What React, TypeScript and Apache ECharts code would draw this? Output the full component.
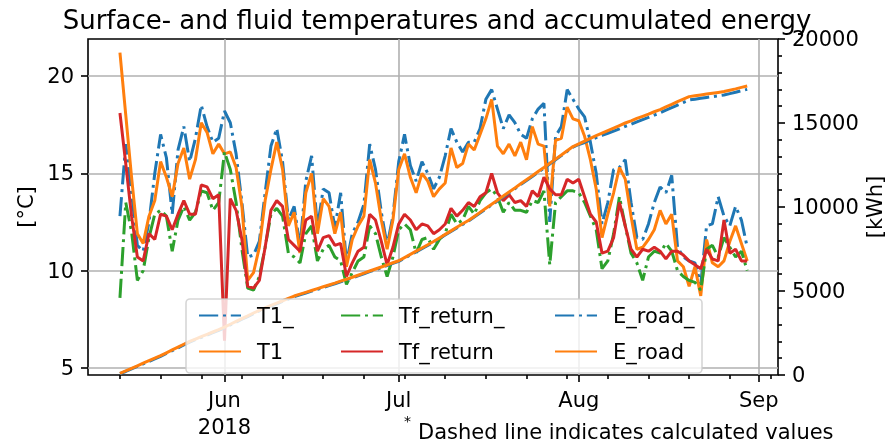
import React, { useEffect, useRef } from 'react';
import * as echarts from 'echarts';

// Daily values, first day = 2018-05-14 (day 0)
const T1_ = [
  12.8, 16.5, 14.0, 11.3, 11.0, 12.5, 15.0, 17.0, 15.8, 12.9, 16.2, 17.4, 15.6, 16.8, 18.5, 17.4, 16.6, 16.8, 18.2, 17.6, 16.0, 13.5, 10.7, 10.8, 11.5, 14.0, 16.4, 17.3,
  15.6, 12.6, 13.3, 11.2, 14.6, 15.9, 12.2, 14.2, 14.0, 12.2, 14.0, 10.4, 11.9, 12.5, 13.4, 16.5, 15.2, 13.0, 11.3, 12.8, 15.6, 17.0, 15.4, 14.6, 15.6, 15.0, 14.2,
  14.8, 15.9, 17.3, 16.6, 16.1, 16.6, 16.6, 17.3, 18.8, 19.3, 18.3, 17.3, 18.0, 17.6, 17.0, 16.8, 17.8, 18.3, 18.6, 12.5, 16.9, 17.4, 19.3, 18.8, 18.3, 17.9, 16.6, 15.0,
  12.4, 13.5, 15.2, 15.3, 15.7, 13.5, 11.7, 11.6, 12.4, 13.5, 14.3, 14.0, 14.9, 11.2, 10.7, 10.5, 10.4, 9.3, 12.3, 12.4, 13.8, 12.8, 12.3, 13.3, 12.6, 11.2,
];
const T1 = [
  21.2, 18.0, 14.8, 11.9, 11.4, 12.8, 13.6, 15.6, 14.8, 13.8, 15.5, 16.3, 14.7, 15.7, 17.6, 17.1, 16.0, 16.5, 16.0, 16.1, 15.3, 13.3, 9.5, 9.9, 11.2, 13.6, 15.2, 16.6,
  15.2, 12.3, 13.0, 10.9, 14.0, 15.0, 11.9, 13.7, 13.3, 11.9, 13.0, 10.2, 11.6, 12.3, 12.8, 15.7, 14.5, 12.6, 11.1, 12.6, 15.2, 16.0, 14.8, 14.0, 15.0, 14.6, 13.8,
  14.2, 14.5, 16.3, 15.3, 15.5, 16.5, 16.2, 17.0, 17.8, 18.8, 16.4, 16.0, 16.5, 15.9, 16.6, 15.7, 17.4, 16.5, 16.4, 13.3, 16.7, 16.8, 18.4, 17.8, 17.7, 16.9, 15.7, 14.2,
  11.7, 12.9, 14.0, 15.3, 14.7, 12.8, 11.1, 11.2, 11.6, 12.1, 13.1, 12.4, 12.9, 10.5, 10.2, 9.2, 10.2, 8.7, 11.6, 10.4, 10.2, 10.5, 11.5, 12.3, 11.4, 10.5,
];
const Tf_return_ = [
  8.6, 13.5, 12.0, 9.5, 10.0, 11.7, 12.9, 13.1, 12.8, 11.0, 12.6, 13.3, 12.6, 13.0, 14.1, 14.0, 13.1, 13.5, 16.1, 15.2, 13.5, 11.1, 9.1, 9.0, 9.7, 11.2, 12.9, 13.2,
  12.8, 10.9, 10.7, 10.4, 11.9, 12.3, 10.5, 11.1, 11.3, 10.7, 10.5, 9.3, 9.9, 10.5, 10.7, 12.3, 11.9, 10.7, 9.7, 10.7, 12.1, 12.4, 12.1, 10.9, 11.6, 11.7, 11.1,
  11.6, 11.9, 12.9, 12.4, 12.6, 13.3, 12.9, 13.6, 14.0, 14.2, 13.8, 13.0, 13.5, 13.1, 13.1, 13.0, 13.6, 13.5, 14.1, 10.3, 13.5, 13.8, 14.1, 14.1, 14.0, 13.5, 12.8, 12.1,
  10.1, 10.5, 11.9, 13.8, 12.3, 10.9, 10.4, 9.5, 10.7, 11.0, 10.9, 11.4, 11.0, 10.0, 9.7, 9.5, 9.4, 9.0, 11.1, 11.3, 10.7, 11.7, 11.2, 10.7, 11.0, 10.0,
];
const Tf_return = [
  18.1, 15.5, 12.8, 10.7, 10.5, 11.9, 11.6, 12.9, 12.8, 12.1, 12.9, 13.6, 12.9, 12.9, 14.4, 14.3, 13.7, 13.9, 6.4, 13.7, 13.1, 11.6, 9.2, 9.1, 9.5, 11.2, 13.1, 13.6,
  13.3, 11.6, 11.3, 11.0, 12.6, 12.8, 11.0, 11.7, 11.8, 11.3, 11.4, 9.7, 10.4, 11.0, 11.2, 12.9, 12.6, 11.5, 10.3, 11.2, 12.4, 12.9, 12.6, 12.1, 12.4, 12.3, 11.9,
  12.1, 12.4, 13.2, 12.8, 13.1, 13.5, 13.3, 13.8, 14.0, 15.0, 14.0, 13.6, 13.9, 13.5, 13.6, 13.3, 14.1, 13.8, 14.8, 14.2, 13.9, 13.9, 14.7, 14.5, 14.7, 13.8, 12.9, 12.5,
  10.9, 11.0, 11.7, 13.5, 12.3, 11.1, 10.7, 11.1, 11.0, 11.2, 11.0, 10.6, 11.0, 11.0, 10.8, 10.5, 10.3, 10.1, 11.1, 10.6, 10.5, 12.6, 10.9, 11.1, 10.5, 10.5,
];
const E_road_ = [
  80, 210, 360, 510, 660, 810, 960, 1110, 1280, 1450, 1620, 1790, 1960, 2100, 2240, 2380, 2520, 2660, 2810, 2980, 3150, 3320, 3480, 3650, 3810, 3960, 4100, 4240,
  4380, 4520, 4660, 4770, 4880, 4990, 5100, 5210, 5320, 5430, 5550, 5660, 5780, 5900, 6020, 6150, 6270, 6390, 6510, 6640, 6760, 6950, 7140, 7330, 7520, 7710, 7910,
  8120, 8330, 8540, 8750, 8960, 9160, 9400, 9640, 9880, 10120, 10360, 10610, 10850, 11090, 11340, 11580, 11820, 12070, 12310, 12560, 12810, 13060, 13310, 13560, 13720, 13840, 13990, 14130,
  14260, 14390, 14520, 14650, 14800, 14930, 15070, 15200, 15330, 15470, 15600, 15760, 15910, 16070, 16220, 16370, 16420, 16470, 16520, 16570, 16620, 16670, 16750, 16830, 16920, 17000,
];
const E_road = [
  100, 250, 400, 550, 700, 850, 1000, 1150, 1320, 1490, 1660, 1830, 2000, 2140, 2280, 2420, 2560, 2700, 2850, 3020, 3190, 3360, 3520, 3690, 3850, 4000, 4140, 4280,
  4420, 4560, 4700, 4810, 4920, 5030, 5140, 5250, 5360, 5470, 5590, 5700, 5820, 5940, 6060, 6190, 6310, 6430, 6550, 6680, 6800, 6990, 7180, 7370, 7560, 7750, 7950,
  8160, 8370, 8580, 8790, 9000, 9200, 9440, 9680, 9920, 10160, 10400, 10650, 10890, 11130, 11380, 11620, 11860, 12110, 12350, 12600, 12850, 13100, 13350, 13600, 13760, 13920, 14090, 14250,
  14400, 14550, 14700, 14850, 15000, 15130, 15270, 15400, 15530, 15670, 15800, 15960, 16110, 16270, 16420, 16570, 16620, 16670, 16720, 16770, 16820, 16870, 16950, 17030, 17120, 17200,
];

// Axis ticks (day offsets from 2018-05-14)
const xMajorDays = [18, 48, 79, 110];
const xMajorLabels = ['Jun\n2018', 'Jul', 'Aug', 'Sep'];
const xMinorDays = [0, 7, 14, 21, 28, 35, 42, 49, 56, 63, 70, 77, 84, 91, 98, 105, 112];
const leftTicks = [5, 10, 15, 20];

const FONT = 'DejaVu Sans';
const DASHDOT = [19.2, 4.8, 3, 4.8];

export default function App() {
  const ref = useRef<HTMLDivElement>(null);
  useEffect(() => {
    if (!ref.current) return;
    const chart = echarts.init(ref.current, null, { renderer: 'svg' });
    const toXY = (arr: number[]) => arr.map((v, i) => [i, v]);
    const line = (name: string, data: number[], color: string, dashed: boolean, yAxisIndex: number) => ({
      name,
      type: 'line',
      data: toXY(data),
      yAxisIndex,
      symbol: 'none',
      lineStyle: { color, width: 3, type: dashed ? DASHDOT : 'solid' },
      itemStyle: { color },
      z: 2,
    });
    const legendBase = {
      orient: 'vertical',
      top: 300,
      itemWidth: 42,
      itemHeight: 20,
      itemGap: 15,
      selectedMode: false,
      itemStyle: { opacity: 0 },
      textStyle: { fontSize: 21, fontFamily: FONT, color: '#000', padding: [0, 0, 0, 11] },
      z: 5,
    };
    const tickStyle = { color: '#000', width: 1.6 };
    chart.setOption({
      animation: false,
      title: {
        text: 'Surface- and fluid temperatures and accumulated energy',
        left: 432,
        textAlign: 'center',
        top: 2,
        textStyle: { fontSize: 26, fontWeight: 'normal', fontFamily: FONT, color: '#000' },
      },
      grid: {
        left: 88, right: 111, top: 39, bottom: 71,
        outerBoundsMode: 'none',
        containLabel: false,
        show: true, borderColor: '#000', borderWidth: 1.6, backgroundColor: 'transparent',
      },
      legend: [
        { ...legendBase, left: 193, data: ['T1_', 'T1'] },
        { ...legendBase, left: 335, data: ['Tf_return_', 'Tf_return'] },
        { ...legendBase, left: 549, data: ['E_road_', 'E_road'] },
      ],
      xAxis: [
        {
          type: 'value', min: -5.5, max: 113.3,
          axisLine: { show: false, onZero: false },
          axisTick: { show: true, length: 7, lineStyle: tickStyle, customValues: xMajorDays },
          axisLabel: {
            customValues: xMajorDays,
            margin: 11,
            fontSize: 21, lineHeight: 27, fontFamily: FONT, color: '#000',
            formatter: (v: number) => {
              const k = xMajorDays.indexOf(Math.round(v));
              return k >= 0 ? xMajorLabels[k] : '';
            },
          },
          splitLine: { show: true, lineStyle: { color: '#b0b0b0', width: 1.6 } },
        },
        {
          type: 'value', min: -5.5, max: 113.3, position: 'bottom',
          axisLine: { show: false, onZero: false },
          axisTick: { show: true, length: 4, lineStyle: tickStyle, customValues: xMinorDays },
          axisLabel: { show: false },
          splitLine: { show: false },
        },
      ],
      yAxis: [
        {
          type: 'value', min: 4.64, max: 21.9, position: 'left',
          name: '[°C]', nameLocation: 'middle', nameGap: 50, nameRotate: 90,
          nameTextStyle: { fontSize: 21, fontFamily: FONT, color: '#000' },
          axisLine: { show: false, onZero: false },
          axisTick: { show: true, length: 7, lineStyle: tickStyle, customValues: leftTicks },
          axisLabel: { customValues: leftTicks, margin: 14, fontSize: 21, fontFamily: FONT, color: '#000' },
          splitLine: { show: true, lineStyle: { color: '#b0b0b0', width: 1.6 } },
        },
        {
          type: 'value', min: 0, max: 20000, interval: 5000, position: 'right',
          name: '[kWh]', nameLocation: 'middle', nameGap: 86, nameRotate: 90,
          nameMoveOverlap: false,
          nameTextStyle: { fontSize: 21, lineHeight: 21, fontFamily: FONT, color: '#000' },
          axisLine: { show: false, onZero: false },
          axisTick: { show: true, length: 7, lineStyle: tickStyle },
          minorTick: { show: true, splitNumber: 5, length: 4, lineStyle: tickStyle },
          axisLabel: { margin: 14, fontSize: 21, fontFamily: FONT, color: '#000', formatter: (v: number) => String(v) },
          splitLine: { show: false },
        },
      ],
      graphic: [
        {
          type: 'rect', z: 3,
          shape: { x: 186, y: 299, width: 516, height: 74, r: 4 },
          style: { fill: 'rgba(255,255,255,0.8)', stroke: 'rgba(204,204,204,0.8)', lineWidth: 1.6 },
        },
        {
          type: 'text', z: 5, x: 404, y: 414,
          style: { text: '*', fontSize: 14, fontFamily: FONT, fill: '#000' },
        },
        {
          type: 'text', z: 5, x: 418, y: 421,
          style: { text: 'Dashed line indicates calculated values', fontSize: 21, fontFamily: FONT, fill: '#000' },
        },
      ],
      series: [
        line('T1_', T1_, '#1f77b4', true, 0),
        line('T1', T1, '#ff7f0e', false, 0),
        line('Tf_return_', Tf_return_, '#2ca02c', true, 0),
        line('Tf_return', Tf_return, '#d62728', false, 0),
        line('E_road_', E_road_, '#1f77b4', true, 1),
        line('E_road', E_road, '#ff7f0e', false, 1),
      ],
    });
    return () => chart.dispose();
  }, []);
  return <div ref={ref} style={{ position: 'fixed', left: 0, top: 0, width: 889, height: 446 }} />;
}
